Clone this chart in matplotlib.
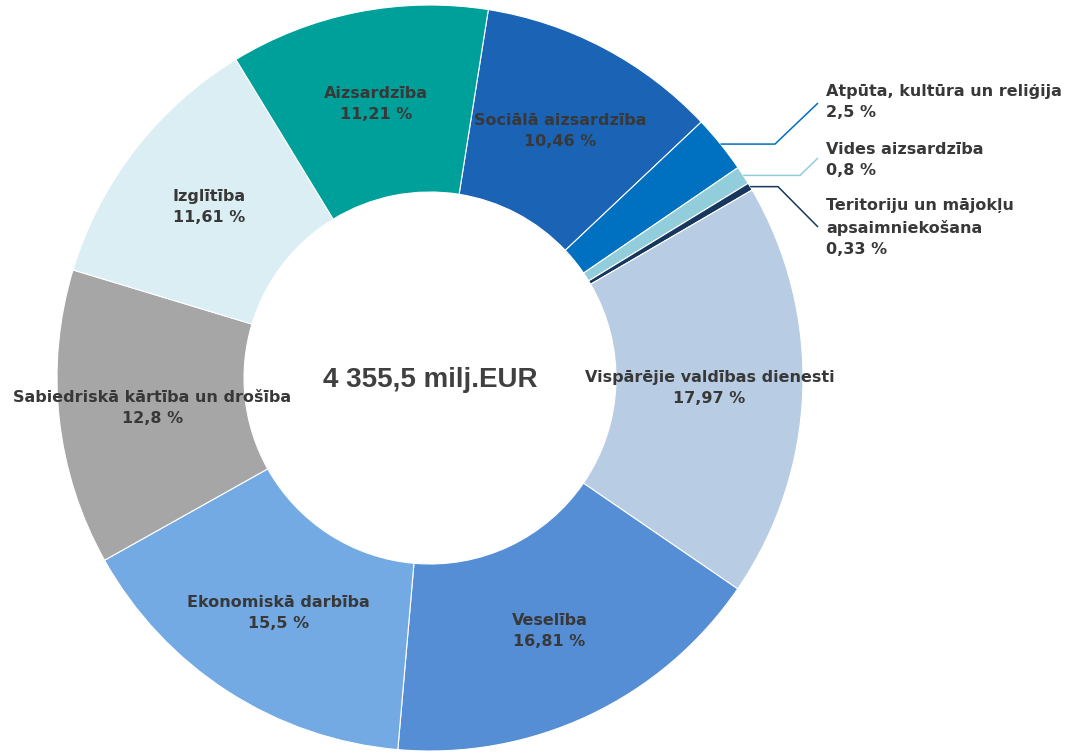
import matplotlib
matplotlib.use("Agg")
import matplotlib.pyplot as plt
import numpy as np

# budžeta sadalījums pa funkcijām, %
nozares = ["Sociālā aizsardzība", "Atpūta, kultūra un reliģija", "Vides aizsardzība",
           "Teritoriju un mājokļu\napsaimniekošana", "Vispārējie valdības dienesti",
           "Veselība", "Ekonomiskā darbība", "Sabiedriskā kārtība un drošība",
           "Izglītība", "Aizsardzība"]
daļas = [10.46, 2.5, 0.8, 0.33, 17.97, 16.81, 15.5, 12.8, 11.61, 11.21]
krāsas = ["#1b63b5", "#0070c0", "#92cddc", "#17375e", "#b8cce4",
          "#558ed5", "#73aae3", "#a6a6a6", "#dbeef4", "#00a09a"]
kopā = "4 355,5 milj.EUR"

W, H = 1075, 753
fig = plt.figure(figsize=(W / 100, H / 100), dpi=100)
ax = fig.add_axes([0, 0, 1, 1])

cx, cy = 430, H - 378
R, r_in = 373, 186

wedges, _ = ax.pie(daļas, colors=krāsas, startangle=81, counterclock=False,
                   center=(cx, cy), radius=R,
                   wedgeprops=dict(width=R - r_in, edgecolor="white", linewidth=0.8))
# pie() pārraksta robežas, tāpēc tās liekam pēc tam
ax.set_xlim(0, W)
ax.set_ylim(0, H)
ax.axis("off")

txt = "#383838"
fs = 11.5
ls = 1.5

def pct(v):
    return f"{v:g}".replace(".", ",") + " %"

# uzraksti ārpusē mazajiem sektoriem: (lūzuma x, gala punkts, teksta augša)
ārējie = {1: (775, (818, H - 103), H - 84),
          2: (800, (818, H - 158), H - 142),
          3: (778, (818, H - 227), H - 198)}

for i, w in enumerate(wedges):
    mid = np.deg2rad((w.theta1 + w.theta2) / 2)
    if i in ārējie:
        bx, (ex, ey), ty = ārējie[i]
        px, py = cx + R * np.cos(mid), cy + R * np.sin(mid)
        ax.plot([px, bx, ex], [py, py, ey], color=krāsas[i], lw=1.1,
                solid_capstyle="butt")
        ax.text(826, ty, nozares[i] + "\n" + pct(daļas[i]), ha="left", va="top",
                fontsize=fs, fontweight="bold", color=txt, linespacing=ls,
                family="DejaVu Sans")
    else:
        rm = (R + r_in) / 2
        ax.text(cx + rm * np.cos(mid), cy + rm * np.sin(mid),
                nozares[i] + "\n" + pct(daļas[i]), ha="center", va="center",
                fontsize=fs, fontweight="bold", color=txt, linespacing=ls,
                family="DejaVu Sans")

ax.text(cx, cy - 2, kopā, ha="center", va="center", fontsize=20,
        fontweight="bold", color="#404040", family="Liberation Sans")

fig.savefig("out.png", dpi=100, facecolor="white")
